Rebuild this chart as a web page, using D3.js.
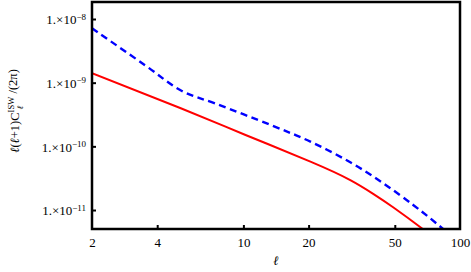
<!DOCTYPE html>
<html>
<head>
<meta charset="utf-8">
<script src="https://cdn.jsdelivr.net/npm/d3@7"></script>
<style>
  html, body { margin: 0; padding: 0; background: #fff; }
  svg { display: block; }
  text { font-family: "Liberation Serif", "DejaVu Serif", serif; fill: #000; }
</style>
</head>
<body>
<svg id="chart" width="471" height="272"></svg>
<script>
// ---- data ----
const redEll  = [2, 5.14, 10.23, 20.39, 31.15, 39.9, 49.3, 66.6, 75];
const redVal  = [1.406e-9, 3.96e-10, 1.51e-10, 5.75e-11, 2.95e-11, 1.78e-11, 1.096e-11, 5.18e-12, 3.76e-12];
const blueEll = [2, 3.5, 5.2, 7.45, 13.34, 20.39, 31.15, 44.3, 60.8, 72.8, 83.5, 95];
const blueVal = [7.14e-9, 1.90e-9, 7.41e-10, 4.68e-10, 2.17e-10, 1.186e-10, 5.62e-11, 2.63e-11, 1.20e-11, 7.43e-12, 5.05e-12, 3.47e-12];
const xTicks = [2, 4, 10, 20, 50, 100];
const yTicks = [1e-8, 1e-9, 1e-10, 1e-11];
const yTickExp = ["\u22128", "\u22129", "\u221210", "\u221211"];

// ---- layout ----
const L = 92, R = 460, T = 2, B = 229;
const svg = d3.select("#chart");

const x = d3.scaleLog().domain([2, 100]).range([L, R]);
const y = d3.scaleLog().domain([Math.pow(10, -11.298), Math.pow(10, -7.733)]).range([B, T]);

svg.append("defs").append("clipPath").attr("id", "clip")
  .append("rect").attr("x", L).attr("y", T).attr("width", R - L).attr("height", B - T);

const redLine = d3.line().x(d => x(d[0])).y(d => y(d[1])).curve(d3.curveNatural);
const blueLine = d3.line().x(d => x(d[0])).y(d => y(d[1])).curve(d3.curveCatmullRom.alpha(0.5));

const plot = svg.append("g").attr("clip-path", "url(#clip)");
plot.append("path")
  .datum(redEll.map((e, i) => [e, redVal[i]]))
  .attr("d", redLine).attr("fill", "none").attr("stroke", "#ff0000").attr("stroke-width", 2);
plot.append("path")
  .datum(blueEll.map((e, i) => [e, blueVal[i]]))
  .attr("d", blueLine).attr("fill", "none").attr("stroke", "#0000ff")
  .attr("stroke-width", 2.4).attr("stroke-dasharray", "7,4.5");

// x axis ticks (inward) and labels
const xAxis = d3.axisBottom(x).tickValues(xTicks).tickSize(-4).tickPadding(9)
  .tickFormat(d3.format("d"));
const gx = svg.append("g").attr("transform", `translate(0,${B})`).call(xAxis);
gx.select(".domain").remove();
gx.selectAll("line").attr("stroke", "#000").attr("stroke-width", 2);
gx.selectAll("text").attr("font-size", 13).attr("dy", "0.71em");
gx.selectAll(".tick").filter(d => d === 100 || d === 2).select("line").remove();

// y axis ticks (inward) and labels
const yAxis = d3.axisLeft(y).tickValues(yTicks).tickSize(-4).tickFormat(() => "");
const gy = svg.append("g").attr("transform", `translate(${L},0)`).call(yAxis);
gy.select(".domain").remove();
gy.selectAll("line").attr("stroke", "#000").attr("stroke-width", 2);
gy.selectAll(".tick").each(function (d, i) {
  const t = d3.select(this).append("text")
    .attr("x", -6).attr("y", 0).attr("dy", "0.38em")
    .attr("text-anchor", "end").attr("font-size", 13);
  t.append("tspan").text("1.\u00d710");
  t.append("tspan").attr("dy", "-0.55em").attr("font-size", 9).text(yTickExp[i]);
});

// frame
svg.append("rect").attr("x", L).attr("y", T).attr("width", R - L).attr("height", B - T)
  .attr("fill", "none").attr("stroke", "#000").attr("stroke-width", 2.5);

// axis titles
svg.append("text").attr("x", 276).attr("y", 265).attr("text-anchor", "middle")
  .attr("font-size", 13).attr("font-style", "italic").text("\u2113");

const yl = svg.append("text")
  .attr("transform", "translate(19,111) rotate(-90)")
  .attr("text-anchor", "middle").attr("font-size", 12.5);
yl.append("tspan").attr("font-style", "italic").text("\u2113");
yl.append("tspan").text("(");
yl.append("tspan").attr("font-style", "italic").text("\u2113");
yl.append("tspan").text("+1)C");
yl.append("tspan").attr("font-size", 8.5).attr("dy", "-0.55em").text("ISW");
yl.append("tspan").attr("font-size", 8.5).attr("font-style", "italic").attr("dx", "-1.5em").attr("dy", "1.0em").text("\u2113");
yl.append("tspan").attr("dx", "1.0em").attr("dy", "-0.45em").text("/(2\u03c0)");
</script>
</body>
</html>
